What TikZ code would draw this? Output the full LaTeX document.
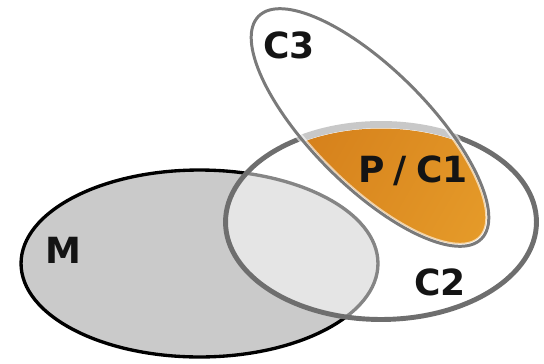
\documentclass[tikz,border=0pt]{standalone}
\usepackage{fontspec}
\setmainfont{DejaVu Sans}
\definecolor{mgray}{RGB}{202,202,202}
\definecolor{ctwogray}{RGB}{110,110,110}
\definecolor{cthreegray}{RGB}{122,122,122}
\definecolor{bandgray}{RGB}{200,200,200}
\definecolor{orangeA}{RGB}{212,126,26}
\definecolor{orangeB}{RGB}{230,156,42}
\begin{document}
\begin{tikzpicture}[x=0.02cm,y=0.02cm,
  lbl/.style={font=\fontsize{20.5}{21}\selectfont\bfseries, text=black!92, anchor=base, inner sep=0pt},
  mstroke/.style={draw=black, line width=1.9pt},
  ctwo/.style={draw=ctwogray, line width=2.8pt},
  cthree/.style={draw=cthreegray, line width=1.7pt}]
\useasboundingbox (0,0) rectangle (544,363);
\coordinate (m) at (199.5,99.5);
\coordinate (c2) at (381,141);
\coordinate (c3) at (370,235.5);
% M
\fill[mgray] (m) ellipse [x radius=3.57cm, y radius=1.87cm];
\draw[mstroke] (m) ellipse [x radius=3.57cm, y radius=1.87cm];
% C2
\fill[white, fill opacity=0.52] (c2) ellipse [x radius=3.11cm, y radius=1.95cm];
\draw[ctwo] (c2) ellipse [x radius=3.11cm, y radius=1.95cm];
% orange intersection
\begin{scope}
  \clip[rotate around={-45:(c3)}] (c3) ellipse [x radius=3.1cm, y radius=1.13cm];
  \clip (c2) ellipse [x radius=3.03cm, y radius=1.87cm];
  \shade[left color=orangeA, right color=orangeB, shading angle=60]
    (250,80) rectangle (520,260);
\end{scope}
% C2 stroke faded inside C3
\begin{scope}
  \clip[rotate around={-45:(c3)}] (c3) ellipse [x radius=3.15cm, y radius=1.17cm];
  \draw[draw=bandgray, line width=4pt] (c2) ellipse [x radius=3.11cm, y radius=1.95cm];
\end{scope}
% C3
\draw[white, opacity=0.6, line width=4pt, rotate around={-45:(c3)}] (c3) ellipse [x radius=3.15cm, y radius=1.17cm];
\draw[cthree, rotate around={-45:(c3)}] (c3) ellipse [x radius=3.15cm, y radius=1.17cm];
% labels
\node[lbl] (lm) at (63,100) {M};
\node[lbl] (lc3) at (289,305) {C3};
\node[lbl] (lc2) at (440,68) {C2};
\node[lbl] (lp) at (413,181) {P\hspace{0.25em}/\hspace{0.25em}C1};
\end{tikzpicture}
\end{document}
